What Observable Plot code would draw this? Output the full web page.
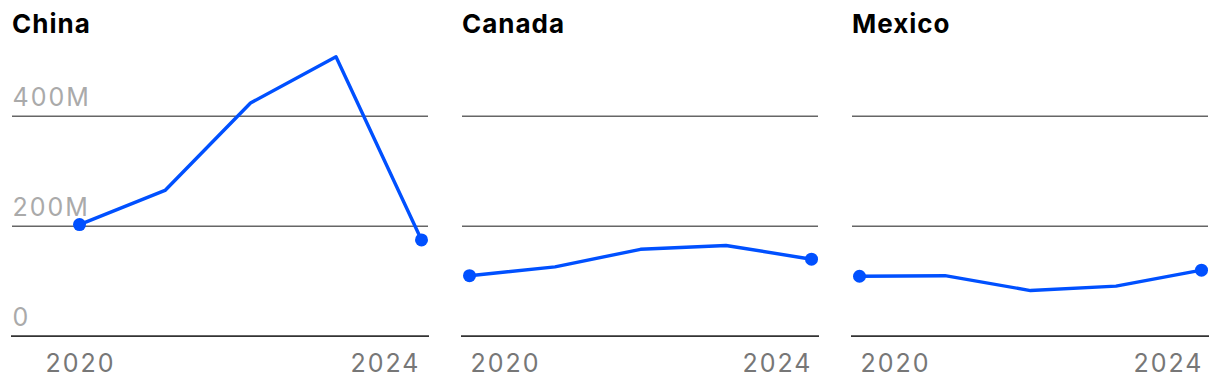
<!DOCTYPE html>
<html>
<head>
<meta charset="utf-8">
<script src="https://cdn.jsdelivr.net/npm/d3@7"></script>
<script src="https://cdn.jsdelivr.net/npm/@observablehq/plot@0.6"></script>
<style>
  html, body { margin: 0; padding: 0; background: #fff; }
  #root { position: relative; width: 1220px; height: 384px; overflow: hidden; }
  .panel { position: absolute; top: 0; }
  .title { position: absolute; top: 11px; left: 0; font-family: Inter, sans-serif; font-weight: 700; font-size: 26px; line-height: 26px; letter-spacing: 1px; color: #000; white-space: nowrap; }
  .panel svg { position: absolute; top: 44px; left: 0; overflow: visible; }
  .panel svg text { letter-spacing: 2px; }
</style>
</head>
<body>
<div id="root"></div>
<script>
// ---- data ----
const countries = ["China", "Canada", "Mexico"];
const years = [2020, 2021, 2022, 2023, 2024];
const chinaValues = [203, 265, 424, 508, 175];   // millions
const canadaValues = [110, 126, 158, 165, 140];
const mexicoValues = [109, 110, 83, 91, 120];
const yTicks = [0, 200, 400];
const yTickLabels = ["0", "200M", "400M"];
const xTicks = [2020, 2024];
const xTickLabels = ["2020", "2024"];

const seriesByCountry = { China: chinaValues, Canada: canadaValues, Mexico: mexicoValues };

// ---- layout (styles, not data) ----
const layout = {
  China:  { left: 12,  width: 416, xr: [67, 409], showY: true,  firstAnchor: "middle", firstDx: 1, lastDx: -1 },
  Canada: { left: 462, width: 356, xr: [7, 349],  showY: false, firstAnchor: "start",  firstDx: 1, lastDx: 1 },
  Mexico: { left: 852, width: 356, xr: [7, 349],  showY: false, firstAnchor: "start",  firstDx: 1, lastDx: 2 }
};

const blue = "#0050ff";
const root = document.getElementById("root");

countries.forEach(name => {
  const L = layout[name];
  const vals = seriesByCountry[name];
  const data = years.map((y, i) => ({ year: y, value: vals[i] }));
  const ends = [data[0], data[data.length - 1]];
  const gridTicks = yTicks.filter(t => t !== 0);
  const yLab = yTicks.map((t, i) => ({ t, label: yTickLabels[i] }));
  const xLab = xTicks.map((t, i) => ({ t, label: xTickLabels[i] }));

  const marks = [
    Plot.ruleY(gridTicks, { stroke: "#666", strokeWidth: 1.4 }),
    Plot.ruleY([0], { stroke: "#333", strokeWidth: 1.8, insetLeft: -1, insetRight: -1 }),
    Plot.line(data, { x: "year", y: "value", stroke: blue, strokeWidth: 3.4 }),
    Plot.dot(ends, { x: "year", y: "value", fill: blue, r: 6.5 }),
    Plot.text([xLab[0]], { x: "t", y: () => 0, text: "label", textAnchor: L.firstAnchor, dx: L.firstDx, dy: 36, lineAnchor: "bottom", fill: "#777", fontSize: 25 }),
    Plot.text([xLab[1]], { x: "t", y: () => 0, text: "label", textAnchor: "end", dx: L.lastDx, dy: 36, lineAnchor: "bottom", fill: "#777", fontSize: 25 })
  ];
  if (L.showY) {
    marks.push(Plot.text(yLab, { y: "t", text: "label", frameAnchor: "left", textAnchor: "start", lineAnchor: "bottom", dy: -10, fill: "#aaa", fontSize: 25 }));
  }

  const chart = Plot.plot({
    width: L.width,
    height: 340,
    marginLeft: 0,
    marginRight: 0,
    marginTop: 0,
    marginBottom: 0,
    style: { fontFamily: "Inter, sans-serif", background: "transparent", overflow: "visible" },
    x: { domain: [2020, 2024], range: L.xr, axis: null },
    y: { domain: [0, 500], range: [291.7, 16.7], axis: null },
    marks
  });

  const panel = document.createElement("div");
  panel.className = "panel";
  panel.style.left = L.left + "px";
  panel.style.width = L.width + "px";
  const title = document.createElement("div");
  title.className = "title";
  title.textContent = name;
  panel.appendChild(title);
  panel.appendChild(chart);
  root.appendChild(panel);
});
</script>
</body>
</html>
